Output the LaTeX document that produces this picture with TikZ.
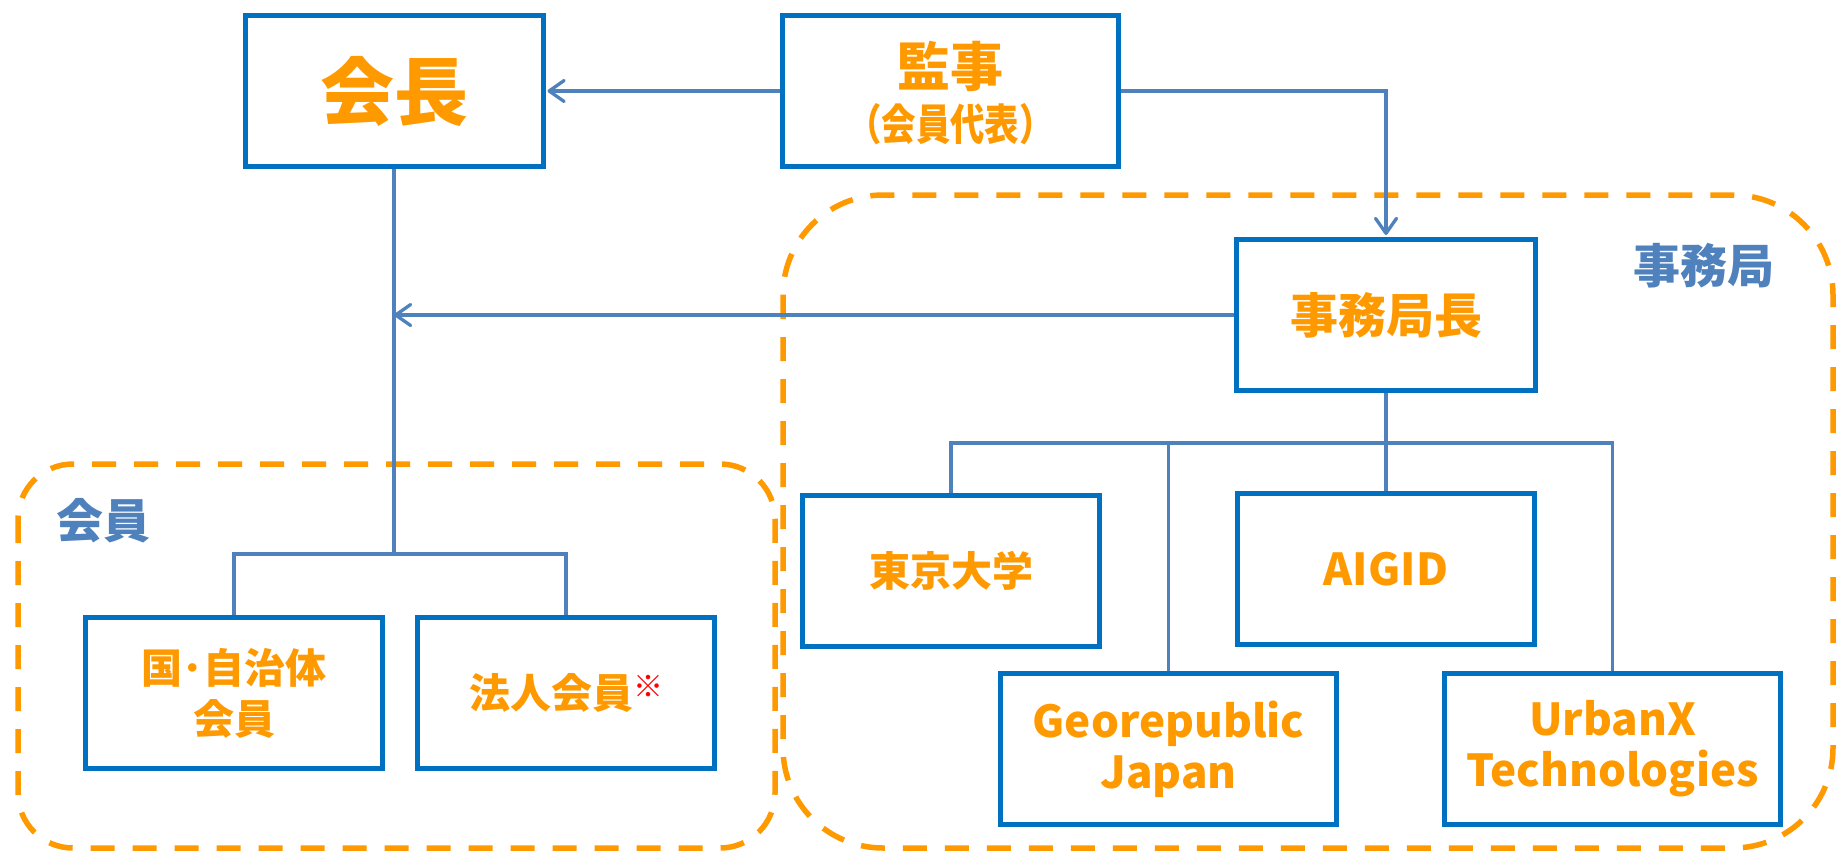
\documentclass[tikz,border=0pt]{standalone}
\usepackage{fontspec}
\setmainfont{Noto Sans CJK JP}
\usepackage{graphicx}
\usetikzlibrary{arrows.meta,calc}
\definecolor{orng}{HTML}{FF9900}
\definecolor{boxblue}{HTML}{0070C0}
\definecolor{lineblue}{HTML}{4F81BD}
\begin{document}
\begin{tikzpicture}[x=1pt,y=-1pt,
  box/.style={draw=boxblue, line width=5pt, minimum width=#1, minimum height=151pt, inner sep=0pt, text=orng, font=\bfseries\fontsize{41}{51}\selectfont, align=center},
  conn/.style={draw=lineblue, line width=3.3pt},
  arr/.style={conn, -{Straight Barb[length=15pt,width=21pt,round]}, shorten >=2pt},
  region/.style={draw=orng, line width=5.5pt, dash pattern=on 24pt off 18pt},
  grp/.style={text=lineblue, font=\bfseries\fontsize{47}{47}\selectfont, inner sep=0pt},
  txt/.style={text=orng, inner sep=0pt}]
\useasboundingbox (0,0) rectangle (1837,852);
% regions
\draw[region, rounded corners=55pt] (18,464) rectangle (775,848);
\draw[region, rounded corners=100pt] (783,195) rectangle (1833,848);
% boxes
\node[box=298pt, font=\bfseries\fontsize{74}{74}\selectfont] (kaicho) at (394,91) {会長};
\node[box=336pt] (kanji) at (950.5,91) {};
\node[txt, font=\bfseries\fontsize{53}{53}\selectfont] (kanjiA) at (950.5,66) {監事};
\node[txt, font=\bfseries\fontsize{43}{43}\selectfont] (kanjiB) at (950.5,124) {\scalebox{0.8}[1]{（会員代表）}};
\node[box=299pt, font=\bfseries\fontsize{48}{48}\selectfont] (jimu) at (1386,315) {事務局長};
\node[box=297pt] (todai) at (951,571) {東京大学};
\node[box=297pt, font=\bfseries\fontsize{44}{44}\selectfont] (aigid) at (1386,569) {AIGID};
\node[box=336pt, font=\bfseries\fontsize{44}{51}\selectfont] (geo) at (1168.5,749) {Georepublic\\Japan};
\node[box=336pt, font=\bfseries\fontsize{44}{51}\selectfont] (urban) at (1612.5,749) {UrbanX\\Technologies};
\node[box=297pt] (kuni) at (234,693) {国･自治体\\会員};
\node[box=297pt] (hojin) at (566,693) {法人会員\raisebox{11pt}{\textcolor{red}{\fontsize{30}{30}\selectfont ※}}};
% group labels
\node[grp] (lblKai) at (103,521) {会員};
\node[grp] (lblJimu) at (1704,266) {事務局};
% connectors
\coordinate (kjoin) at (394,554);
\coordinate (jjoin) at (1386,443);
\draw[arr] (kanji.west) -- (kaicho.east);
\draw[arr] (kanji.east) -| (jimu.north);
\draw[conn] (kaicho.south) -- (kjoin);
\draw[conn] (kuni.north) |- (kjoin) -| (hojin.north);
\draw[arr, shorten >=0pt] (jimu.west) -- (jimu.west -| kaicho.south);
\draw[conn] (jimu.south) -- (jjoin);
\draw[conn] (todai.north) |- (jjoin) -| (urban.north);
\draw[conn] (jjoin) -- (aigid.north);
\draw[conn] (geo.north) -- (geo.north |- jjoin);
\end{tikzpicture}
\end{document}
